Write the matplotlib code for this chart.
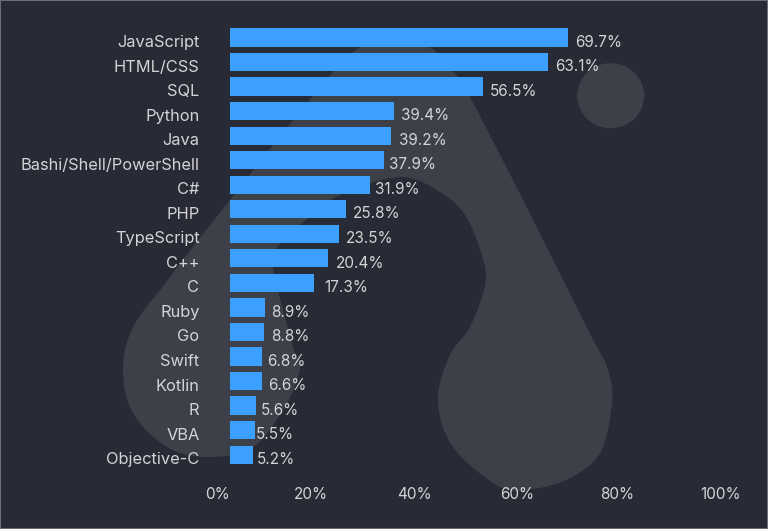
import matplotlib
matplotlib.use("Agg")
import matplotlib.pyplot as plt
from matplotlib.path import Path
from matplotlib.patches import PathPatch, Ellipse
from matplotlib.transforms import ScaledTranslation

plt.rcParams['font.family'] = ['Inter', 'DejaVu Sans']

# ---- data -------------------------------------------------------------
categories = ["JavaScript", "HTML/CSS", "SQL", "Python", "Java",
              "Bashi/Shell/PowerShell", "C#", "PHP", "TypeScript", "C++", "C",
              "Ruby", "Go", "Swift", "Kotlin", "R", "VBA", "Objective-C"]
# printed percentages
value_labels = ["69.7%", "63.1%", "56.5%", "39.4%", "39.2%", "37.9%", "31.9%",
                "25.8%", "23.5%", "20.4%", "17.3%", "8.9%", "8.8%", "6.8%",
                "6.6%", "5.6%", "5.5%", "5.2%"]
# bar lengths (the original bars do not follow the printed numbers)
bar_lengths = [67.7, 63.6, 50.6, 32.8, 32.2, 30.8, 28.1, 23.2, 21.9, 19.6,
               16.8, 7.0, 6.8, 6.5, 6.4, 5.3, 5.1, 4.7]
# the gap between each bar and its label, in px
label_gaps = [7.5, 7.5, 7.5, 7, 8, 6, 5, 7, 6.7, 8, 10.5, 7, 8, 4.7, 7, 4.7, 1, 3.3]
x_tick_labels = ["0%", "20%", "40%", "60%", "80%", "100%"]
# the original tick labels are hand placed and slightly off the bar scale
x_tick_positions = [-2.4, 16.3, 36.9, 57.5, 77.5, 98.3]

BG = "#282a35"
BLOB = "#3e4049"
BAR = "#3ba0ff"
TEXT = "#d4d4d6"
FONT_SIZE = 11
CAT_FONT_SIZE = 11.8

W, H = 768, 529
fig = plt.figure(figsize=(W / 100, H / 100), dpi=100, facecolor=BG)

# ---- decorative background in pixel coordinates ------------------------
bg = fig.add_axes([0, 0, 1, 1], zorder=0)
bg.set_xlim(0, W)
bg.set_ylim(H, 0)
bg.set_xticks([])
bg.set_yticks([])
bg.set_facecolor(BG)
for s in bg.spines.values():
    s.set_color("#6a6d74")
    s.set_linewidth(1.5)

outline = [(395, 28), (430, 47), (458, 77), (470, 97), (523, 200), (588, 330),
           (607, 367), (612, 403), (600, 453), (570, 478), (533, 489), (500, 487),
           (453, 447), (438, 400), (450, 355), (470, 327), (485, 285), (482, 255),
           (465, 215), (440, 192), (400, 177), (340, 195), (300, 225), (277, 248),
           (273, 268), (293, 347), (300, 367), (287, 403), (253, 447), (207, 457),
           (167, 447), (133, 413), (123, 370), (133, 327), (168, 280), (185, 257),
           (230, 200), (273, 145), (312, 97), (333, 72), (360, 47)]


def smooth_closed(pts, k=1 / 6):
    n = len(pts)
    verts = [pts[0]]
    codes = [Path.MOVETO]
    for i in range(n):
        p0, p1, p2, p3 = pts[i - 1], pts[i], pts[(i + 1) % n], pts[(i + 2) % n]
        verts += [(p1[0] + (p2[0] - p0[0]) * k, p1[1] + (p2[1] - p0[1]) * k),
                  (p2[0] - (p3[0] - p1[0]) * k, p2[1] - (p3[1] - p1[1]) * k),
                  p2]
        codes += [Path.CURVE4] * 3
    return Path(verts, codes)


bg.add_patch(PathPatch(smooth_closed(outline), facecolor=BLOB, edgecolor="none"))
bg.add_patch(Ellipse((610.7, 95.7), 67, 65, facecolor=BLOB, edgecolor="none"))

# ---- chart -------------------------------------------------------------
# the axes start 5 units left of the bar base so that the 0% label stays in view
zero_px, top_px, bottom_px = 229.5, 12.96, 479.2
left_px = zero_px - 25
ax = fig.add_axes([left_px / W, 1 - bottom_px / H, 1 - left_px / W,
                   (bottom_px - top_px) / H], zorder=1)
ax.patch.set_alpha(0)
for s in ax.spines.values():
    s.set_visible(False)

y = list(range(len(categories)))
ax.barh(y, bar_lengths, height=0.745, color=BAR, edgecolor="none")

ax.set_yticks(y, categories)
ax.set_xticks(x_tick_positions, x_tick_labels)
ax.set_xlim(-5, (W - zero_px) / 5)
ax.set_ylim(len(categories), -1)
ax.tick_params(axis="y", length=0, pad=3.6, labelsize=CAT_FONT_SIZE, labelcolor=TEXT)
ax.tick_params(axis="x", length=0, pad=5.5, labelsize=FONT_SIZE, labelcolor=TEXT)

down = ScaledTranslation(0, -2.5 / 72, fig.dpi_scale_trans)
for lab in ax.get_yticklabels():
    lab.set_transform(lab.get_transform() + down)

for yi, length, txt, gap in zip(y, bar_lengths, value_labels, label_gaps):
    ax.annotate(txt, (length, yi), xytext=(gap * 0.72, -3.4), textcoords="offset points",
                va="center", ha="left", fontsize=FONT_SIZE, color=TEXT)

fig.savefig("out.png", dpi=100, facecolor=BG)
